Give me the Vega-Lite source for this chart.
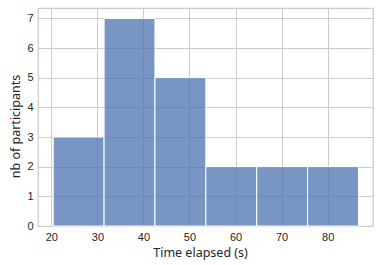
{
  "$schema": "https://vega.github.io/schema/vega-lite/v6.json",
  "width": 335,
  "height": 218,
  "autosize": {"type": "none"},
  "padding": {"left": 38, "top": 8, "right": 5, "bottom": 39},
  "background": "white",
  "config": {
    "view": {"stroke": "#cccccc", "strokeWidth": 1.25},
    "font": "Liberation Sans",
    "axis": {
      "grid": true,
      "gridColor": "#cccccc",
      "gridWidth": 1,
      "domain": false,
      "ticks": false,
      "labelFont": "Liberation Sans",
      "labelFontSize": 11,
      "labelColor": "#262626",
      "titleFont": "Noto Sans",
      "titleFontSize": 12.5,
      "titleFontWeight": "normal",
      "titleColor": "#262626",
      "labelPadding": 5
    }
  },
  "data": {
    "values": [
      {"start": 20.4, "end": 31.45, "count": 3},
      {"start": 31.45, "end": 42.5, "count": 7},
      {"start": 42.5, "end": 53.55, "count": 5},
      {"start": 53.55, "end": 64.6, "count": 2},
      {"start": 64.6, "end": 75.65, "count": 2},
      {"start": 75.65, "end": 86.7, "count": 2}
    ]
  },
  "mark": {"type": "rect", "color": "#4c72b0", "fillOpacity": 0.75, "stroke": "white", "strokeWidth": 1},
  "encoding": {
    "x": {
      "field": "start",
      "type": "quantitative",
      "scale": {"domain": [17.1, 89.85], "nice": false, "zero": false},
      "axis": {"values": [20, 30, 40, 50, 60, 70, 80], "title": "Time elapsed (s)", "titlePadding": 4, "titleX": 162}
    },
    "x2": {"field": "end"},
    "y": {
      "field": "count",
      "type": "quantitative",
      "scale": {"domain": [0, 7.35], "nice": false},
      "axis": {"values": [0, 1, 2, 3, 4, 5, 6, 7], "title": "nb of participants", "titlePadding": 4, "titleY": 118}
    },
    "y2": {"datum": 0}
  }
}
